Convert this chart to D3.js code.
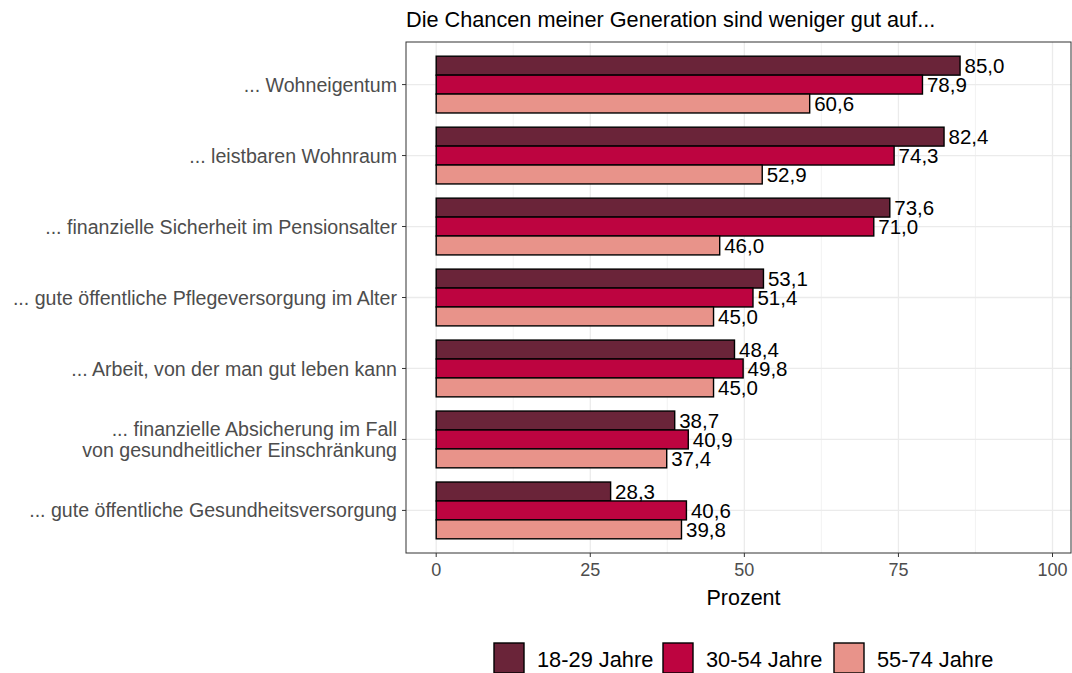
<!DOCTYPE html>
<html>
<head>
<meta charset="utf-8">
<script src="https://cdn.jsdelivr.net/npm/d3@7"></script>
<style>
  body { margin: 0; background: #fff; }
  text { font-family: Arial, "Liberation Sans", sans-serif; }
</style>
</head>
<body>
<svg id="chart" width="1072" height="673"></svg>
<script>
// categories (top to bottom)
var categories = [
  ["... Wohneigentum"],
  ["... leistbaren Wohnraum"],
  ["... finanzielle Sicherheit im Pensionsalter"],
  ["... gute öffentliche Pflegeversorgung im Alter"],
  ["... Arbeit, von der man gut leben kann"],
  ["... finanzielle Absicherung im Fall", "von gesundheitlicher Einschränkung"],
  ["... gute öffentliche Gesundheitsversorgung"]
];
var groups = ["18-29 Jahre", "30-54 Jahre", "55-74 Jahre"];
var colors = ["#6A2439", "#BD0440", "#E8938A"];
var v1829 = [85.0, 82.4, 73.6, 53.1, 48.4, 38.7, 28.3];
var v3054 = [78.9, 74.3, 71.0, 51.4, 49.8, 40.9, 40.6];
var v5574 = [60.6, 52.9, 46.0, 45.0, 45.0, 37.4, 39.8];
var xTicks = [0, 25, 50, 75, 100];

var series = [v1829, v3054, v5574];
var svg = d3.select("#chart");

var pLeft = 406, pRight = 1071, pTop = 42, pBottom = 553;

var x = d3.scaleLinear().domain([-4.9, 103]).range([pLeft, pRight]);
var y = d3.scaleBand().domain(d3.range(categories.length))
  .range([pTop, pBottom]).paddingInner(0.2).paddingOuter(0.2);
var yInner = d3.scaleBand().domain(d3.range(groups.length)).range([0, y.bandwidth()]);

// minor grid
var minor = [12.5, 37.5, 62.5, 87.5];
svg.append("g").selectAll("line").data(minor).enter().append("line")
  .attr("x1", d => x(d)).attr("x2", d => x(d))
  .attr("y1", pTop).attr("y2", pBottom)
  .attr("stroke", "#F0F0F0").attr("stroke-width", 0.8);

// major grid
svg.append("g").selectAll("line").data(xTicks).enter().append("line")
  .attr("x1", d => x(d)).attr("x2", d => x(d))
  .attr("y1", pTop).attr("y2", pBottom)
  .attr("stroke", "#EBEBEB").attr("stroke-width", 1.3);
svg.append("g").selectAll("line").data(d3.range(categories.length)).enter().append("line")
  .attr("x1", pLeft).attr("x2", pRight)
  .attr("y1", d => y(d) + y.bandwidth() / 2).attr("y2", d => y(d) + y.bandwidth() / 2)
  .attr("stroke", "#EBEBEB").attr("stroke-width", 1.3);

// bars
var rows = [];
categories.forEach(function(c, i) {
  series.forEach(function(s, j) {
    rows.push({ cat: i, grp: j, val: s[i] });
  });
});

var bars = svg.append("g");
bars.selectAll("rect").data(rows).enter().append("rect")
  .attr("x", x(0))
  .attr("y", d => y(d.cat) + yInner(d.grp))
  .attr("width", d => x(d.val) - x(0))
  .attr("height", yInner.bandwidth())
  .attr("fill", d => colors[d.grp])
  .attr("stroke", "#000").attr("stroke-width", 1.4);

bars.selectAll("text").data(rows).enter().append("text")
  .attr("x", d => x(d.val) + 4.5)
  .attr("y", d => y(d.cat) + yInner(d.grp) + yInner.bandwidth() / 2)
  .attr("dy", "0.36em")
  .attr("font-size", 20.5).attr("fill", "#000")
  .text(d => d.val.toFixed(1).replace(".", ","));

// panel border
svg.append("rect").attr("x", pLeft).attr("y", pTop)
  .attr("width", pRight - pLeft).attr("height", pBottom - pTop)
  .attr("fill", "none").attr("stroke", "#333").attr("stroke-width", 1);

// x axis
var xAxis = svg.append("g");
xAxis.selectAll("line").data(xTicks).enter().append("line")
  .attr("x1", d => x(d)).attr("x2", d => x(d))
  .attr("y1", pBottom).attr("y2", pBottom + 4)
  .attr("stroke", "#333");
xAxis.selectAll("text").data(xTicks).enter().append("text")
  .attr("x", d => x(d)).attr("y", pBottom + 23)
  .attr("text-anchor", "middle").attr("font-size", 18).attr("fill", "#4D4D4D")
  .text(d => d);
svg.append("text").attr("x", (pLeft + pRight) / 2 + 5).attr("y", 605)
  .attr("text-anchor", "middle").attr("font-size", 21.5).attr("fill", "#000")
  .text("Prozent");

// y axis
var yAxis = svg.append("g");
categories.forEach(function(c, i) {
  var cy = y(i) + y.bandwidth() / 2;
  yAxis.append("line").attr("x1", pLeft - 4).attr("x2", pLeft)
    .attr("y1", cy).attr("y2", cy).attr("stroke", "#333");
  var t = yAxis.append("text").attr("x", pLeft - 9).attr("text-anchor", "end")
    .attr("font-size", 19.6).attr("fill", "#4D4D4D");
  c.forEach(function(line, k) {
    t.append("tspan").attr("x", pLeft - 9)
      .attr("y", cy + (k - (c.length - 1) / 2) * 21)
      .attr("dy", "0.36em").text(line);
  });
});

// title
svg.append("text").attr("x", pLeft).attr("y", 27)
  .attr("font-size", 21.7).attr("fill", "#000")
  .text("Die Chancen meiner Generation sind weniger gut auf...");

// legend
var legX = [494, 663, 834];
var leg = svg.append("g");
groups.forEach(function(g, i) {
  leg.append("rect").attr("x", legX[i]).attr("y", 643)
    .attr("width", 30).attr("height", 30)
    .attr("fill", colors[i]).attr("stroke", "#000").attr("stroke-width", 1.4);
  leg.append("text").attr("x", legX[i] + 43).attr("y", 659)
    .attr("dy", "0.36em").attr("font-size", 21.8).attr("fill", "#000").text(g);
});
</script>
</body>
</html>
